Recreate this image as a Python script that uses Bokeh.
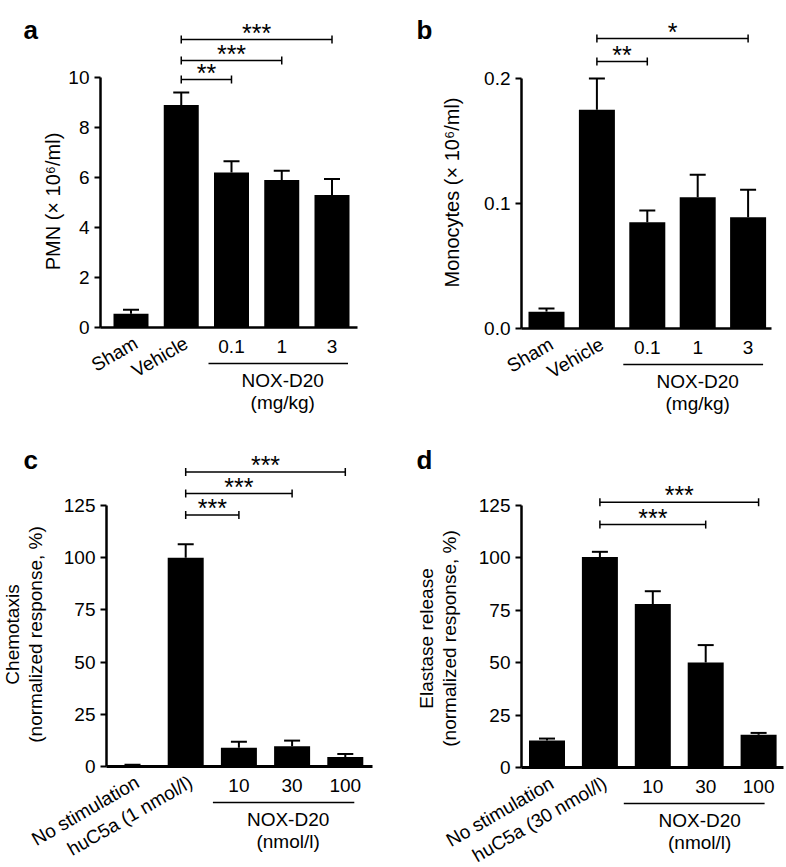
from bokeh.plotting import figure
from bokeh.layouts import column, row
from bokeh.models import Label, FixedTicker, NumeralTickFormatter
from bokeh.core.properties import value
from bokeh.embed import file_html
from bokeh.resources import INLINE

FONT = "Liberation Sans"

# ---------------- data ----------------
a_categories = ["Sham", "Vehicle", "0.1", "1", "3"]
a_mean = [0.55, 8.9, 6.2, 5.9, 5.3]
a_sem = [0.16, 0.5, 0.45, 0.37, 0.64]
a_yticks = [0, 2, 4, 6, 8, 10]
a_ytitle = ["PMN (\u00d7 10\u2076/ml)"]
a_group = ["NOX-D20", "(mg/kg)"]
a_sig_from = [1, 1, 1]
a_sig_to = [2, 3, 4]
a_sig_y = [9.92, 10.68, 11.52]
a_sig_text = ["**", "***", "***"]

b_categories = ["Sham", "Vehicle", "0.1", "1", "3"]
b_mean = [0.0135, 0.175, 0.085, 0.105, 0.089]
b_sem = [0.0025, 0.025, 0.0095, 0.018, 0.022]
b_yticks = [0.0, 0.1, 0.2]
b_ytitle = ["Monocytes (\u00d7 10\u2076/ml)"]
b_group = ["NOX-D20", "(mg/kg)"]
b_sig_from = [1, 1]
b_sig_to = [2, 4]
b_sig_y = [0.2136, 0.232]
b_sig_text = ["**", "*"]

c_categories = ["No stimulation", "huC5a (1 nmol/l)", "10", "30", "100"]
c_mean = [0.4, 100.0, 9.0, 9.7, 4.5]
c_sem = [0.4, 6.5, 2.8, 2.7, 1.5]
c_yticks = [0, 25, 50, 75, 100, 125]
c_ytitle = ["Chemotaxis", "(normalized response, %)"]
c_group = ["NOX-D20", "(nmol/l)"]
c_sig_from = [1, 1, 1]
c_sig_to = [2, 3, 4]
c_sig_y = [120.4, 130.7, 141.1]
c_sig_text = ["***", "***", "***"]

d_categories = ["No stimulation", "huC5a (30 nmol/l)", "10", "30", "100"]
d_mean = [12.9, 100.4, 78.0, 50.1, 15.6]
d_sem = [0.9, 2.5, 6.1, 8.3, 0.9]
d_yticks = [0, 25, 50, 75, 100, 125]
d_ytitle = ["Elastase release", "(normalized response, %)"]
d_group = ["NOX-D20", "(nmol/l)"]
d_sig_from = [1, 1]
d_sig_to = [3, 4]
d_sig_y = [115.9, 126.6]
d_sig_text = ["***", "***"]

# ---------------- layout (picture pixels) ----------------
GEO = {
    "a": dict(fig=(0, 0, 393, 434), left=100, right=357, y0=327, ytop=77,
              c0=130.5, step=50.25, bar=35, cap=8, letter=(23, 29), base_w=2.5,
              tx=[52], ty=201, tsize="20px", fmt="0", gl=-23, gr=16, goff=1),
    "b": dict(fig=(393, 0, 393, 434), left=521, right=771, y0=328, ytop=78,
              c0=546, step=50.4, bar=36, cap=8, letter=(416, 29), base_w=2.5,
              tx=[451], ty=192, tsize="20px", fmt="0.0", gl=-24, gr=15, goff=0),
    "c": dict(fig=(0, 434, 393, 433), left=106, right=372, y0=766, ytop=505,
              c0=132, step=53.2, bar=36, cap=8, letter=(23, 459), base_w=3,
              tx=[12, 35], ty=634, tsize="19px", fmt="0", gl=-26, gr=9, goff=-4),
    "d": dict(fig=(393, 434, 393, 433), left=521, right=783, y0=767, ytop=505,
              c0=546.5, step=52.9, bar=36, cap=8, letter=(416, 459), base_w=3,
              tx=[426, 449], ty=638, tsize="19px", fmt="0", gl=-29, gr=6, goff=-6),
}


def build(letter, cats, mean, sem, yticks, ytitle, group, sfrom, sto, sy, stext):
    g = GEO[letter]
    ox, oy, W, H = g["fig"]
    scale = (g["y0"] - g["ytop"]) / yticks[-1]
    step = g["step"]

    def X(px):
        return (px - g["c0"]) / step

    def Y(py):
        return (g["y0"] - py) / scale

    dx = 1.0 / step
    dy = 1.0 / scale
    p = figure(width=W, height=H, x_range=(X(ox), X(ox + W)), y_range=(Y(oy + H), Y(oy)),
               x_axis_type=None, output_backend="svg", toolbar_location=None,
               min_border_left=0, min_border_right=0, min_border_top=0, min_border_bottom=0)
    p.grid.visible = False
    p.outline_line_color = None
    p.background_fill_color = "white"
    p.border_fill_color = "white"

    ax = p.yaxis[0]
    ax.fixed_location = X(g["left"])
    ax.ticker = FixedTicker(ticks=yticks)
    ax.bounds = (0, yticks[-1])
    ax.formatter = NumeralTickFormatter(format=g["fmt"])
    ax.axis_line_width = 2.5
    ax.axis_line_color = "black"
    ax.major_tick_line_width = 2
    ax.major_tick_line_color = "black"
    ax.major_tick_out = 6
    ax.major_tick_in = 0
    ax.minor_tick_line_color = None
    ax.major_label_standoff = 5
    ax.major_label_text_font = FONT
    ax.major_label_text_font_size = "19px"
    ax.major_label_text_color = "black"

    idx = list(range(len(cats)))
    tops = [m + s for m, s in zip(mean, sem)]
    # bars
    p.vbar(x=idx, top=mean, bottom=0, width=g["bar"] * dx, fill_color="black", line_color=None)
    # error bars (upper whisker only)
    p.segment(x0=idx, y0=mean, x1=idx, y1=tops, line_color="black", line_width=2)
    p.segment(x0=[i - g["cap"] * dx for i in idx], y0=tops, x1=[i + g["cap"] * dx for i in idx], y1=tops,
              line_color="black", line_width=2)
    # category axis baseline
    p.segment(x0=[X(g["left"])], y0=[0], x1=[X(g["right"])], y1=[0], line_color="black",
              line_width=g["base_w"])

    # significance brackets
    p.segment(x0=sfrom, y0=sy, x1=sto, y1=sy, line_color="black", line_width=1.5)
    ends = sfrom + sto
    ey = sy + sy
    p.segment(x0=ends, y0=[v - 4 * dy for v in ey], x1=ends, y1=[v + 4 * dy for v in ey],
              line_color="black", line_width=1.5)
    p.text(x=[(a + b) / 2 for a, b in zip(sfrom, sto)], y=[v + 7 * dy for v in sy], text=stext,
           text_align="center", text_baseline="alphabetic", text_font=value(FONT),
           text_font_size="25px", text_color="black")

    # category labels
    p.text(x=[i + 5 * dx for i in idx[:2]], y=[-14 * dy] * 2, text=cats[:2], angle=30, angle_units="deg",
           text_align="right", text_baseline="middle", text_font=value(FONT), text_font_size="19px",
           text_color="black")
    p.text(x=idx[2:], y=[-19 * dy] * 3, text=cats[2:], text_align="center", text_baseline="middle",
           text_font=value(FONT), text_font_size="19px", text_color="black")
    # group line and label
    p.segment(x0=[2 + g["gl"] * dx], y0=[-36 * dy], x1=[4 + g["gr"] * dx], y1=[-36 * dy],
              line_color="black", line_width=1.5)
    p.text(x=[3 + g["goff"] * dx] * 2, y=[-53 * dy, -75 * dy], text=group, text_align="center",
           text_baseline="middle", text_font=value(FONT), text_font_size="19px", text_color="black")

    # y-axis title
    for tx, t in zip(g["tx"], ytitle):
        p.add_layout(Label(x=X(tx), y=Y(g["ty"]), text=t, angle=90, angle_units="deg",
                           text_align="center", text_baseline="middle", text_font=FONT,
                           text_font_size=g["tsize"], text_color="black"))
    # panel letter
    lx, ly = g["letter"]
    p.add_layout(Label(x=X(lx), y=Y(ly), text=letter, text_align="left", text_baseline="alphabetic",
                       text_font=FONT, text_font_style="bold", text_font_size="26px", text_color="black"))
    return p


pa = build("a", a_categories, a_mean, a_sem, a_yticks, a_ytitle, a_group, a_sig_from, a_sig_to, a_sig_y, a_sig_text)
pb = build("b", b_categories, b_mean, b_sem, b_yticks, b_ytitle, b_group, b_sig_from, b_sig_to, b_sig_y, b_sig_text)
pc = build("c", c_categories, c_mean, c_sem, c_yticks, c_ytitle, c_group, c_sig_from, c_sig_to, c_sig_y, c_sig_text)
pd_ = build("d", d_categories, d_mean, d_sem, d_yticks, d_ytitle, d_group, d_sig_from, d_sig_to, d_sig_y, d_sig_text)

layout = column(row(pa, pb), row(pc, pd_))
open("out.html", "w").write(file_html(layout, INLINE))
